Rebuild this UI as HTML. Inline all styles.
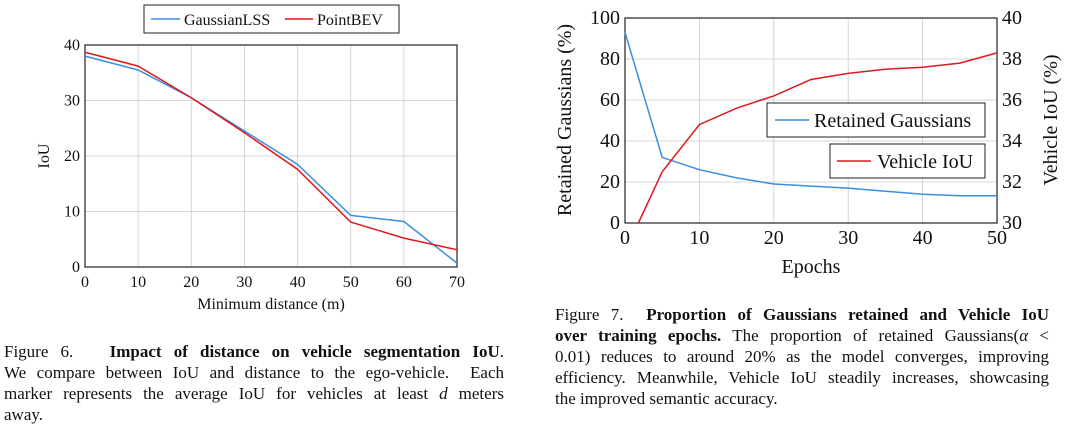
<!DOCTYPE html>
<html><head><meta charset="utf-8"><style>
body{margin:0;width:1080px;height:431px;background:#fff;overflow:hidden;font-family:"Liberation Serif",serif;position:relative}
.cap{position:absolute;font-size:17px;line-height:21px;color:#111}
.cap div{text-align:justify;text-align-last:justify;white-space:nowrap}
.cap div.last{text-align-last:left}
svg text{font-family:"Liberation Serif",serif;fill:#111}
</style></head><body>
<svg width="1080" height="431" style="position:absolute;left:0;top:0">
<g id="c1"></g>
<g id="c2"></g>
</svg>
<div class="cap" style="left:4px;top:341px;width:500px">
<div>Figure 6. &nbsp; <b>Impact of distance on vehicle segmentation IoU</b>.</div>
<div>We compare between IoU and distance to the ego-vehicle. &nbsp;Each</div>
<div>marker represents the average IoU for vehicles at least <i>d</i> meters</div>
<div class="last">away.</div></div>
<div class="cap" style="left:555px;top:304px;width:494px">
<div>Figure 7. &nbsp;<b>Proportion of Gaussians retained and Vehicle IoU</b></div>
<div><b>over training epochs.</b> The proportion of retained Gaussians(<i>α</i> &lt;</div>
<div>0.01) reduces to around 20% as the model converges, improving</div>
<div>efficiency. Meanwhile, Vehicle IoU steadily increases, showcasing</div>
<div class="last">the improved semantic accuracy.</div></div>
<script>
const distX=[0,10,20,30,40,50,60,70];
const gaussianLSS=[38,35.5,30.5,24.5,18.5,9.3,8.2,0.7];
const pointBEV=[38.7,36.2,30.5,24.2,17.6,8.1,5.2,3.1];
const distXTicks=[0,10,20,30,40,50,60,70];
const iouTicks=[0,10,20,30,40];
const epochX=[0,5,10,15,20,25,30,35,40,45,50];
const retained=[93,32,26,22,19,18,17,15.5,14,13.3,13.3];
const iouEpochX=[1.8,5,10,15,20,25,30,35,40,45,50];
const vehicleIoU=[30,32.5,34.8,35.6,36.2,37.0,37.3,37.5,37.6,37.8,38.3];
const epochTicks=[0,10,20,30,40,50];
const retTicks=[0,20,40,60,80,100];
const vTicks=[30,32,34,36,38,40];
const NS='http://www.w3.org/2000/svg';
function mk(p,t,a,txt){const e=document.createElementNS(NS,t);for(const k in a)e.setAttribute(k,a[k]);if(txt!==undefined)e.textContent=txt;p.appendChild(e);return e;}
const g1=document.getElementById('c1');
const x1=v=>85+(v-0)/70*372, y1=v=>267-v/40*222;
distXTicks.forEach(t=>{const l=mk(g1,'line',{x1:x1(t),x2:x1(t),y1:45,y2:267,stroke:'#ccc','stroke-width':0.8});


const tx=mk(g1,'text',{x:x1(t),y:287,'text-anchor':'middle','font-size':16},t);

});
iouTicks.forEach(t=>{const l=mk(g1,'line',{x1:85,x2:457,y1:y1(t),y2:y1(t),stroke:'#ccc','stroke-width':0.8});


const tx=mk(g1,'text',{x:80,y:y1(t)+5,'text-anchor':'end','font-size':16},t);

});
const r1=mk(g1,'rect',{x:85,y:45,width:372,height:222,fill:'none',stroke:'#222','stroke-width':1.2});


const p1=mk(g1,'polyline',{points:distX.map((x,i)=>x1(x)+','+y1(gaussianLSS[i])).join(' '),fill:'none',stroke:'#3b8ee0','stroke-width':1.5});


const p2=mk(g1,'polyline',{points:distX.map((x,i)=>x1(x)+','+y1(pointBEV[i])).join(' '),fill:'none',stroke:'#e0191f','stroke-width':1.5});


const xt1=mk(g1,'text',{x:271,y:309,'text-anchor':'middle','font-size':16},'Minimum distance (m)');


const yt1=mk(g1,'text',{x:0,y:0,'text-anchor':'middle','font-size':16,transform:'translate(49,156) rotate(-90)'},'IoU');


const lg=mk(g1,'g',{});


mk(lg,'rect',{x:144,y:5,width:255,height:28,fill:'#fff',stroke:'#222','stroke-width':1});
mk(lg,'line',{x1:151,x2:180,y1:19,y2:19,stroke:'#3b8ee0','stroke-width':1.5});
mk(lg,'text',{x:184,y:25,'font-size':16},'GaussianLSS');
mk(lg,'line',{x1:285,x2:313,y1:19,y2:19,stroke:'#e0191f','stroke-width':1.5});
mk(lg,'text',{x:317,y:25,'font-size':16},'PointBEV');
const g2=document.getElementById('c2');
const x2=v=>625+v/50*372, y2=v=>223-v/100*205, y2r=v=>223-(v-30)/10*205;
epochTicks.forEach(t=>{const l=mk(g2,'line',{x1:x2(t),x2:x2(t),y1:18,y2:223,stroke:'#ccc','stroke-width':0.8});


const tx=mk(g2,'text',{x:x2(t),y:244,'text-anchor':'middle','font-size':20},t);

});
retTicks.forEach(t=>{const l=mk(g2,'line',{x1:625,x2:997,y1:y2(t),y2:y2(t),stroke:'#ccc','stroke-width':0.8});


const tx=mk(g2,'text',{x:620,y:y2(t)+6,'text-anchor':'end','font-size':20},t);

});
vTicks.forEach(t=>{const tx=mk(g2,'text',{x:1002,y:y2r(t)+6,'font-size':20},t);

});
const r2=mk(g2,'rect',{x:625,y:18,width:372,height:205,fill:'none',stroke:'#222','stroke-width':1.2});


const q1=mk(g2,'polyline',{points:epochX.map((x,i)=>x2(x)+','+y2(retained[i])).join(' '),fill:'none',stroke:'#3b8ee0','stroke-width':1.5});


const q2=mk(g2,'polyline',{points:iouEpochX.map((x,i)=>x2(x)+','+y2r(vehicleIoU[i])).join(' '),fill:'none',stroke:'#e0191f','stroke-width':1.5});


const xt2=mk(g2,'text',{x:811,y:273,'text-anchor':'middle','font-size':20},'Epochs');


const yl=mk(g2,'text',{x:0,y:0,'text-anchor':'middle','font-size':20,transform:'translate(571,120) rotate(-90)'},'Retained Gaussians (%)');


const yr=mk(g2,'text',{x:0,y:0,'text-anchor':'middle','font-size':20,transform:'translate(1057,120) rotate(-90)'},'Vehicle IoU (%)');


const l1=mk(g2,'g',{});


mk(l1,'rect',{x:767,y:103,width:218,height:34,fill:'#fff',stroke:'#222','stroke-width':1});
mk(l1,'line',{x1:775,x2:809,y1:120,y2:120,stroke:'#3b8ee0','stroke-width':1.5});
mk(l1,'text',{x:814,y:127,'font-size':20},'Retained Gaussians');
const l2=mk(g2,'g',{});


mk(l2,'rect',{x:830,y:144,width:155,height:34,fill:'#fff',stroke:'#222','stroke-width':1});
mk(l2,'line',{x1:837,x2:871,y1:161,y2:161,stroke:'#e0191f','stroke-width':1.5});
mk(l2,'text',{x:877,y:168,'font-size':20},'Vehicle IoU');
</script>
</body></html>
